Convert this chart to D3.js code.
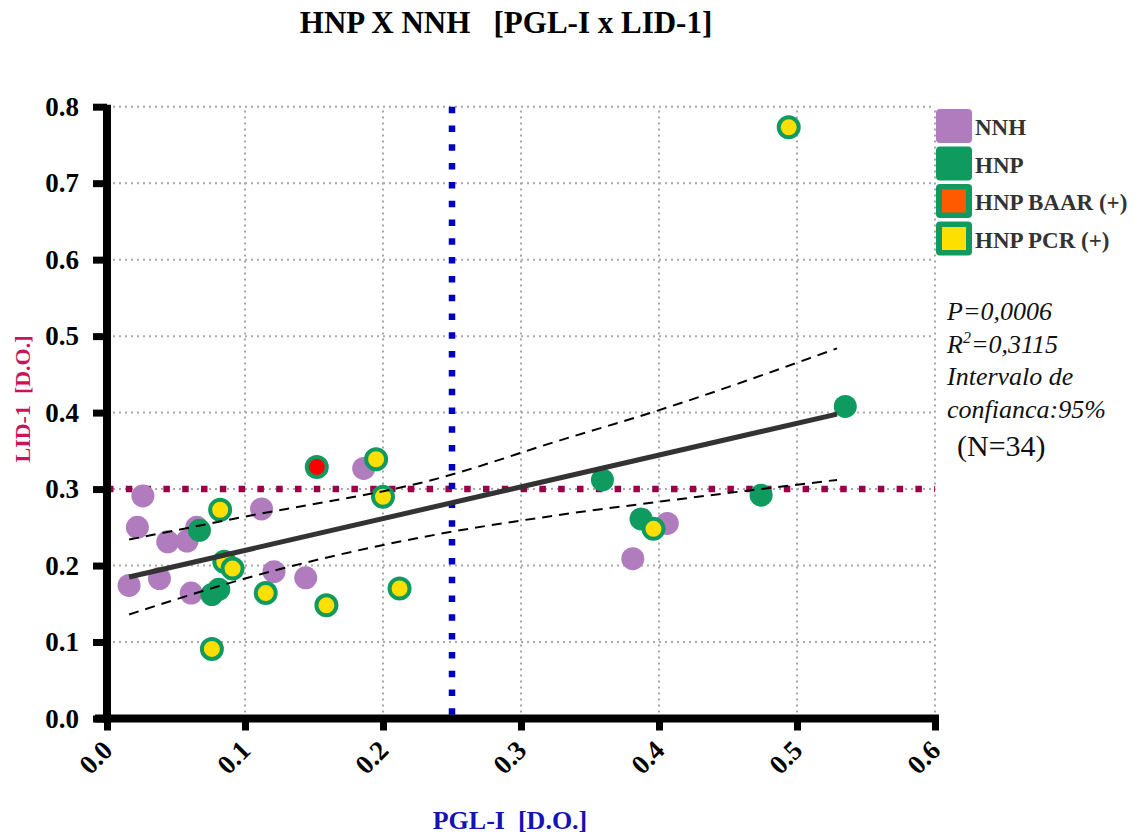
<!DOCTYPE html>
<html>
<head>
<meta charset="utf-8">
<script src="https://cdn.jsdelivr.net/npm/d3@7"></script>
<style>
  body { margin: 0; background: #fff; }
  text { font-family: "Liberation Serif", "Times New Roman", serif; }
  .tick-label { font-size: 27px; font-weight: bold; fill: #000; }
  .legend-label { font-size: 23px; font-weight: bold; fill: #333; }
  .note { font-size: 26px; font-style: italic; fill: #111; }
</style>
</head>
<body>
<div id="chart"></div>
<script>
const WIDTH = 1140, HEIGHT = 835;

// data
const nnhX = [0.016, 0.026, 0.022, 0.044, 0.058, 0.038, 0.065, 0.061, 0.112, 0.121, 0.144, 0.186, 0.381, 0.406];
const nnhY = [0.174, 0.291, 0.250, 0.231, 0.232, 0.183, 0.250, 0.164, 0.274, 0.192, 0.184, 0.327, 0.209, 0.255];

const hnpX = [0.535, 0.359, 0.474, 0.387, 0.067, 0.076, 0.081];
const hnpY = [0.408, 0.312, 0.292, 0.261, 0.246, 0.162, 0.169];

const baarX = [0.152];
const baarY = [0.329];

const pcrX = [0.082, 0.085, 0.091, 0.076, 0.115, 0.159, 0.195, 0.200, 0.212, 0.494, 0.396];
const pcrY = [0.273, 0.205, 0.196, 0.091, 0.164, 0.148, 0.339, 0.290, 0.170, 0.773, 0.248];

// regression line and 95% band
const fitX = [0.016, 0.529];
const fitY = [0.185, 0.398];
const bandX = [0.016, 0.100, 0.240, 0.327, 0.398, 0.529];
const bandUp = [0.234, 0.264, 0.314, 0.363, 0.402, 0.484];
const bandLo = [0.136, 0.183, 0.241, 0.266, 0.283, 0.312];

const cutX = 0.25, cutY = 0.3;

const xTicks = [0, 0.1, 0.2, 0.3, 0.4, 0.5, 0.6];
const yTicks = [0, 0.1, 0.2, 0.3, 0.4, 0.5, 0.6, 0.7, 0.8];

const legendNames = ["NNH", "HNP", "HNP BAAR (+)", "HNP PCR (+)"];

const PURPLE = "#b07cbe", GREEN = "#0f9a60", YELLOW = "#ffdf00", RED = "#ff0000", ORANGE = "#ff5a00";

const svg = d3.select("#chart").append("svg")
  .attr("width", WIDTH).attr("height", HEIGHT);

const x = d3.scaleLinear().domain([0, 0.6]).range([107, 935]);
const y = d3.scaleLinear().domain([0, 0.8]).range([718.5, 106.7]);

// gridlines
svg.append("g").selectAll("line").data(xTicks.slice(1)).join("line")
  .attr("x1", d => x(d)).attr("x2", d => x(d))
  .attr("y1", y(0)).attr("y2", y(0.8))
  .attr("stroke", "#a8a8a8").attr("stroke-width", 2).attr("stroke-dasharray", "2,4");
svg.append("g").selectAll("line").data(yTicks).join("line")
  .attr("x1", x(0)).attr("x2", x(0.6))
  .attr("y1", d => y(d)).attr("y2", d => y(d))
  .attr("stroke", "#a8a8a8").attr("stroke-width", 2).attr("stroke-dasharray", "2,4");

// cut-off lines
svg.append("line")
  .attr("x1", x(0)).attr("x2", x(0.6)).attr("y1", y(cutY)).attr("y2", y(cutY))
  .attr("stroke", "#9a0048").attr("stroke-width", 6.5).attr("stroke-dasharray", "6.5,12.3");
svg.append("line")
  .attr("x1", x(cutX)).attr("x2", x(cutX)).attr("y1", y(0.8)).attr("y2", y(0))
  .attr("stroke", "#0000c0").attr("stroke-width", 6.5).attr("stroke-dasharray", "6.5,12.3");

// points
function dots(xs, ys, fill, stroke) {
  svg.append("g").selectAll("circle").data(xs.map((v, i) => [v, ys[i]])).join("circle")
    .attr("cx", d => x(d[0])).attr("cy", d => y(d[1]))
    .attr("r", stroke ? 10 : 11.5)
    .attr("fill", fill)
    .attr("stroke", stroke || "none").attr("stroke-width", 4);
}
dots(nnhX, nnhY, PURPLE);
dots(hnpX, hnpY, GREEN);
dots(pcrX, pcrY, YELLOW, GREEN);
dots(baarX, baarY, RED, GREEN);

// regression + band
const line = d3.line().x(d => x(d[0])).y(d => y(d[1]));
const bandLine = d3.line().x(d => x(d[0])).y(d => y(d[1])).curve(d3.curveMonotoneX);
svg.append("path").datum(fitX.map((v, i) => [v, fitY[i]]))
  .attr("d", line).attr("fill", "none").attr("stroke", "#333").attr("stroke-width", 5);
[bandUp, bandLo].forEach(b => {
  svg.append("path").datum(bandX.map((v, i) => [v, b[i]]))
    .attr("d", bandLine).attr("fill", "none").attr("stroke", "#000")
    .attr("stroke-width", 2).attr("stroke-dasharray", "10,7");
});

// axes
const xAxis = svg.append("g").attr("transform", `translate(0,${y(0)})`)
  .call(d3.axisBottom(x).tickValues(xTicks).tickSize(12).tickSizeOuter(0).tickFormat(""));
const yAxis = svg.append("g").attr("transform", `translate(${x(0)},0)`)
  .call(d3.axisLeft(y).tickValues(yTicks).tickSize(14).tickSizeOuter(0).tickFormat(""));
xAxis.select(".domain").attr("d", `M${x(0) - 12},0H${x(0.6) + 4}`);
yAxis.select(".domain").attr("d", `M0,${y(0.8) - 2}V${y(0) + 4}`);
[xAxis, yAxis].forEach(a => {
  a.select(".domain").attr("stroke", "#000").attr("stroke-width", 8);
  a.selectAll(".tick line").attr("stroke", "#000").attr("stroke-width", 7);
});

svg.append("g").selectAll("text").data(xTicks).join("text")
  .attr("class", "tick-label")
  .attr("transform", d => `translate(${x(d) + 7},${752}) rotate(-45)`)
  .attr("text-anchor", "end")
  .text(d => d.toFixed(1));
svg.append("g").selectAll("text").data(yTicks).join("text")
  .attr("class", "tick-label")
  .attr("x", 79).attr("y", d => y(d) + 9)
  .attr("text-anchor", "end")
  .text(d => d.toFixed(1));

// title & axis labels
svg.append("text")
  .attr("x", 506).attr("y", 33).attr("text-anchor", "middle")
  .attr("font-size", 31).attr("font-weight", "bold")
  .attr("xml:space", "preserve").style("white-space", "pre")
  .text("HNP X NNH   [PGL-I x LID-1]");

svg.append("text")
  .attr("x", 510).attr("y", 829).attr("text-anchor", "middle")
  .attr("font-size", 26).attr("font-weight", "bold").attr("fill", "#1414b4")
  .style("white-space", "pre")
  .text("PGL-I  [D.O.]");

svg.append("text")
  .attr("transform", "translate(30,399) rotate(-90)").attr("text-anchor", "middle")
  .attr("font-size", 22).attr("font-weight", "bold").attr("fill", "#c8145a")
  .style("white-space", "pre")
  .text("LID-1  [D.O.]");

// legend
const legend = svg.append("g");
legendNames.forEach((name, i) => {
  const ly = 109 + i * 37.5;
  const fills = [PURPLE, GREEN, GREEN, GREEN];
  legend.append("rect").attr("x", 936).attr("y", ly).attr("width", 36).attr("height", 34)
    .attr("rx", 4).attr("fill", fills[i]);
  if (i >= 2) {
    legend.append("rect").attr("x", 942).attr("y", ly + 5.5).attr("width", 24).attr("height", 23)
      .attr("fill", i === 2 ? ORANGE : YELLOW);
  }
  legend.append("text").attr("class", "legend-label")
    .attr("x", 975).attr("y", ly + 26).text(name);
});

// stats note
const notes = ["P=0,0006", "R", "Intervalo de", "confianca:95%"];
notes.forEach((t, i) => {
  const tx = svg.append("text").attr("class", "note").attr("x", 947).attr("y", 320 + i * 32.5);
  if (t === "R") {
    tx.append("tspan").text("R");
    tx.append("tspan").attr("font-size", 16).attr("dy", -10).text("2");
    tx.append("tspan").attr("dy", 10).text("=0,3115");
  } else {
    tx.text(t);
  }
});
svg.append("text").attr("x", 957).attr("y", 456)
  .attr("font-size", 30).attr("fill", "#111").text("(N=34)");
</script>
</body>
</html>
